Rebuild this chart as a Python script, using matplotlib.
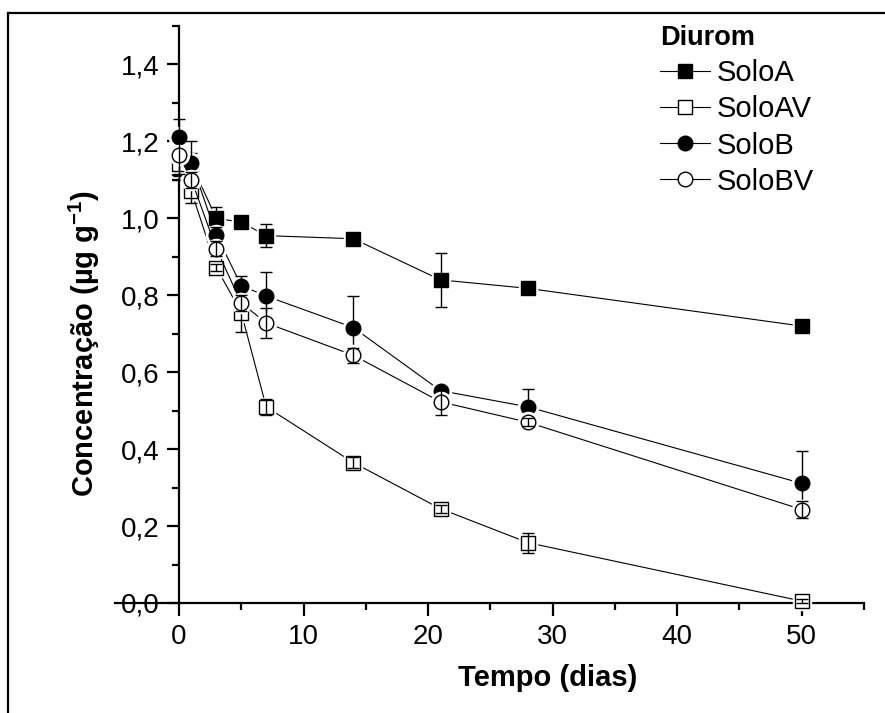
import numpy as np
import matplotlib
matplotlib.use('Agg')
import matplotlib.pyplot as plt
from matplotlib.ticker import MultipleLocator, FuncFormatter
from matplotlib.lines import Line2D

plt.rcParams['font.family'] = ['Liberation Sans', 'DejaVu Sans']
plt.rcParams['mathtext.fontset'] = 'custom'
plt.rcParams['mathtext.rm'] = 'Liberation Sans'
plt.rcParams['mathtext.bf'] = 'Liberation Sans:bold'

# dias de amostragem
tempo = [0, 1, 3, 5, 7, 14, 21, 28, 50]

# concentracao de diurom (ug/g) e desvios
soloA = [1.13, 1.14, 1.00, 0.99, 0.955, 0.947, 0.84, 0.818, 0.72]
soloA_err = [0.03, 0.03, 0.03, 0.01, 0.03, 0.01, 0.07, 0.01, 0.01]

soloAV = [1.14, 1.07, 0.872, 0.755, 0.51, 0.365, 0.245, 0.157, 0.005]
soloAV_err = [0.03, 0.03, 0.01, 0.05, 0.02, 0.015, 0.01, 0.026, 0.005]

soloB = [1.212, 1.145, 0.957, 0.825, 0.798, 0.716, 0.552, 0.51, 0.311]
soloB_err = [0.045, 0.055, 0.02, 0.025, 0.063, 0.083, 0.01, 0.046, 0.085]

soloBV = [1.165, 1.10, 0.921, 0.78, 0.728, 0.644, 0.523, 0.47, 0.243]
soloBV_err = [0.05, 0.02, 0.02, 0.02, 0.039, 0.02, 0.034, 0.01, 0.021]

series = [
    ('SoloA', soloA, soloA_err, 's', 'black'),
    ('SoloAV', soloAV, soloAV_err, 's', 'white'),
    ('SoloB', soloB, soloB_err, 'o', 'black'),
    ('SoloBV', soloBV, soloBV_err, 'o', 'white'),
]

fig = plt.figure(figsize=(8.85, 7.13), dpi=100)
ax = fig.add_axes([179/885, 1 - 603/713, 685/885, 577/713])

handles = []
for i, (nome, y, err, mk, face) in enumerate(series):
    ms = 9.5 if mk == 's' else 10.5
    z = 3 + i
    ax.plot(tempo, y, '-', color='black', lw=0.8, zorder=z, clip_on=False)
    # halo branco para abrir espaco entre linha e simbolo
    ax.plot(tempo, y, ls='none', marker=mk, ms=ms + 4, mfc='white', mec='white',
            zorder=z + 0.1, clip_on=False)
    ax.plot(tempo, y, ls='none', marker=mk, ms=ms, mfc=face, mec='black', mew=1.0,
            zorder=z + 0.2, clip_on=False)
    ax.errorbar(tempo, y, yerr=err, fmt='none', ecolor='black', elinewidth=1.0,
                capsize=4, capthick=1.0, zorder=z + 0.3, clip_on=False)
    handles.append(Line2D([], [], color='black', lw=0.8, marker=mk, ms=ms,
                          mfc=face, mec='black', label=nome))

ax.set_xlim(0, 55)
ax.set_ylim(0, 1.5)
ax.xaxis.set_major_locator(MultipleLocator(10))
ax.xaxis.set_minor_locator(MultipleLocator(5))
ax.yaxis.set_major_locator(MultipleLocator(0.2))
ax.yaxis.set_minor_locator(MultipleLocator(0.1))
ax.yaxis.set_major_formatter(FuncFormatter(lambda v, p: f'{v:.1f}'.replace('.', ',')))

for s in ['top', 'right']:
    ax.spines[s].set_visible(False)
for s in ['left', 'bottom']:
    ax.spines[s].set_linewidth(1.6)

ax.tick_params(which='major', direction='out', length=9, width=1.6, labelsize=20)
ax.tick_params(which='minor', direction='out', length=5, width=1.6)
ax.tick_params(axis='x', which='major', pad=6)
ax.tick_params(axis='y', which='major', pad=5)

ax.set_xlabel('Tempo (dias)', fontsize=21, fontweight='bold')
ax.set_ylabel('Concentração (µg g$^{\\mathbf{-1}}$)', fontsize=21, fontweight='bold')
ax.xaxis.set_label_coords((548 - 179) / 685, -0.105)
ax.yaxis.set_label_coords(-0.112, 0.45)

# traco que cruza o rotulo do zero no eixo y
ax.plot([-0.093, 0], [0, 0], color='black', lw=1.6, transform=ax.transAxes,
        clip_on=False)

leg = ax.legend(handles=handles, title='Diurom', loc='upper left',
                bbox_to_anchor=(660/885, 1 - 25/713), bbox_transform=fig.transFigure,
                frameon=False, fontsize=21, numpoints=1, handlelength=1.7,
                handletextpad=0.25, labelspacing=0.28, borderaxespad=0,
                borderpad=0, title_fontproperties={'weight': 'bold', 'size': 19.5},
                alignment='left')

# moldura externa
fig.add_artist(Line2D([8/885, 8/885], [0, 1 - 13/713], color='black', lw=1.6,
                      transform=fig.transFigure))
fig.add_artist(Line2D([8/885, 1], [1 - 13/713, 1 - 13/713], color='black', lw=1.6,
                      transform=fig.transFigure))

fig.savefig('out.png', dpi=100)
